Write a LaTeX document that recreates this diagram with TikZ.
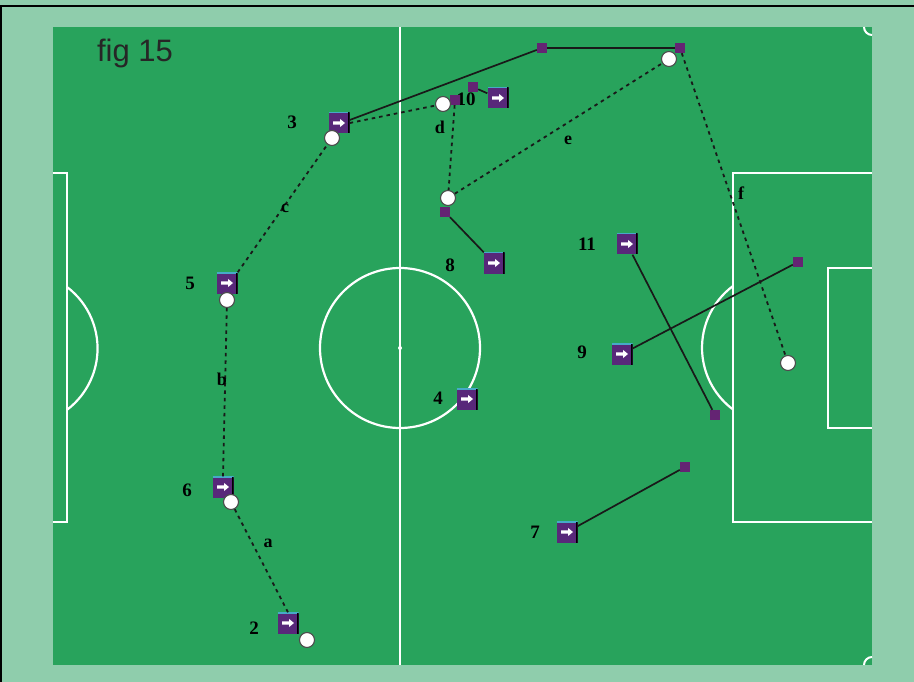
\documentclass[tikz,border=0pt]{standalone}
\usepackage{fontspec}
\setmainfont{Liberation Serif}
\newfontfamily\figfont{Liberation Sans}
\usetikzlibrary{calc}
\definecolor{framegreen}{RGB}{143,205,172}
\definecolor{pitchgreen}{RGB}{40,163,92}
\definecolor{plpurple}{RGB}{88,40,122}
\definecolor{runpurple}{RGB}{100,36,115}
\definecolor{boxtop}{RGB}{70,170,200}
\tikzset{
  player/.style={rectangle, fill=plpurple, minimum width=21pt, minimum height=21pt, inner sep=0pt,
    path picture={
      \fill[white] ([shift={(-6pt,-1.7pt)}]path picture bounding box.center) -- ++(7pt,0pt) -- ++(0pt,-2.4pt)
        -- ++(5pt,4.1pt) -- ++(-5pt,4.1pt) -- ++(0pt,-2.4pt) -- ++(-7pt,0pt) -- cycle;
      \draw[boxtop, line width=2pt] (path picture bounding box.north west) -- (path picture bounding box.north east);
      \draw[black, line width=3pt] (path picture bounding box.north east) -- (path picture bounding box.south east);
    }},
  runsq/.style={rectangle, fill=runpurple, minimum width=10pt, minimum height=10pt, inner sep=0pt},
  ball/.style={circle, fill=white, draw=black!70, line width=1.1pt, minimum size=15pt, inner sep=0pt},
  num/.style={font=\fontsize{19}{19}\selectfont\bfseries, text=black, inner sep=0pt},
  passlbl/.style={font=\fontsize{18}{18}\selectfont\bfseries, text=black, inner sep=0pt},
  pass/.style={draw=black!90, line width=1.8pt, dash pattern=on 3.5pt off 4pt},
  run/.style={draw=black!90, line width=1.7pt},
  pitchline/.style={draw=white, line width=2pt}
}
\begin{document}
\begin{tikzpicture}[x=1pt,y=-1pt]
\useasboundingbox (0,0) rectangle (914,682);
% frame
\fill[framegreen] (0,0) rectangle (914,682);
\draw[black, line width=1.5pt] (1,682) -- (1,6) -- (914,6);
% pitch
\fill[pitchgreen] (53,27) rectangle (872,665);
\draw[white, line width=1.2pt] (400,27) -- (400,665);
\draw[pitchline, line width=2.2pt] (400,348) circle[radius=80pt];
\fill[white] (400,348) circle[radius=2pt];
% left penalty area
\draw[pitchline] (53,173) -- (67,173) -- (67,522) -- (53,522);
\draw[pitchline, line width=2.2pt] (67,287) arc[start angle=52.9, end angle=-52.9, radius=77pt];
% right penalty area
\draw[pitchline] (872,173) -- (733,173) -- (733,522) -- (872,522);
\draw[pitchline] (872,268) -- (828,268) -- (828,428) -- (872,428);
\draw[pitchline, line width=2.2pt] (733,286) arc[start angle=126.7, end angle=233.3, radius=77pt];
% corner arcs
\draw[pitchline] (864,27) arc[start angle=180, end angle=270, radius=8pt];
\draw[pitchline] (872,657) arc[start angle=90, end angle=180, radius=8pt];
% title
\node[font=\figfont\fontsize{31}{31}\selectfont, text=black!85, inner sep=0pt] (title) at (135,53) {fig 15};

% players
\node[player] (p2) at (288,623) {};
\node[player] (p6) at (223,487) {};
\node[player] (p5) at (227,283) {};
\node[player] (p3) at (339,123) {};
\node[player] (p10) at (498,98) {};
\node[player] (p8) at (494,263) {};
\node[player] (p4) at (467,399) {};
\node[player] (p11) at (627,244) {};
\node[player] (p9) at (622,354) {};
\node[player] (p7) at (567,532) {};
% numbers
\node[num] (n2) at (254,628) {2};
\node[num] (n6) at (187,490) {6};
\node[num] (n5) at (190,283) {5};
\node[num] (n3) at (292,122) {3};
\node[num] (n10) at (466,99) {10};
\node[num] (n8) at (450,265) {8};
\node[num] (n4) at (438,398) {4};
\node[num] (n11) at (587,244) {11};
\node[num] (n9) at (582,352) {9};
\node[num] (n7) at (535,532) {7};
% run end squares
\node[runsq] (sqT) at (542,48) {};
\node[runsq] (sqF) at (680,48) {};
\node[runsq] (sq10a) at (473,87) {};
\node[runsq] (sq10b) at (455,100) {};
\node[runsq] (sq8) at (445,212) {};
\node[runsq] (sq11) at (715,415) {};
\node[runsq] (sq9) at (798,262) {};
\node[runsq] (sq7) at (685,467) {};
% balls
\node[ball] (b2) at (307,640) {};
\node[ball] (b6) at (231,502) {};
\node[ball] (b5) at (227,300) {};
\node[ball] (b3) at (332,138) {};
\node[ball] (b10) at (443,104) {};
\node[ball] (b8) at (448,198) {};
\node[ball] (bF) at (669,59) {};
\node[ball] (bG) at (788,363) {};

% runs
\draw[run] ([yshift=3pt]p3.east) -- (sqT) -- (sqF);
\draw[run] (p10) -- (sq10a);
\draw[run] (p8) -- (sq8);
\draw[run] (p11) -- (sq11);
\draw[run] (p9) -- (sq9);
\draw[run] (p7) -- (sq7);
% passes
\draw[pass] (p2.north) -- (b6);
\draw[pass] (p6.north) -- (b5);
\draw[pass] (p5.north east) -- (b3);
\draw[pass] (p3.east) -- (b10);
\draw[pass] (sq10b) -- (b8);
\draw[pass] (b8) -- (bF);
\draw[pass] (sqF) -- (bG);
% pass labels
\node[passlbl] (la) at (268,543) {a};
\node[passlbl] (lb) at (222,379) {b};
\node[passlbl] (lc) at (285,208) {c};
\node[passlbl] (ld) at (440,127) {d};
\node[passlbl] (le) at (568,140) {e};
\node[passlbl] (lf) at (741,193) {f};
\end{tikzpicture}
\end{document}
